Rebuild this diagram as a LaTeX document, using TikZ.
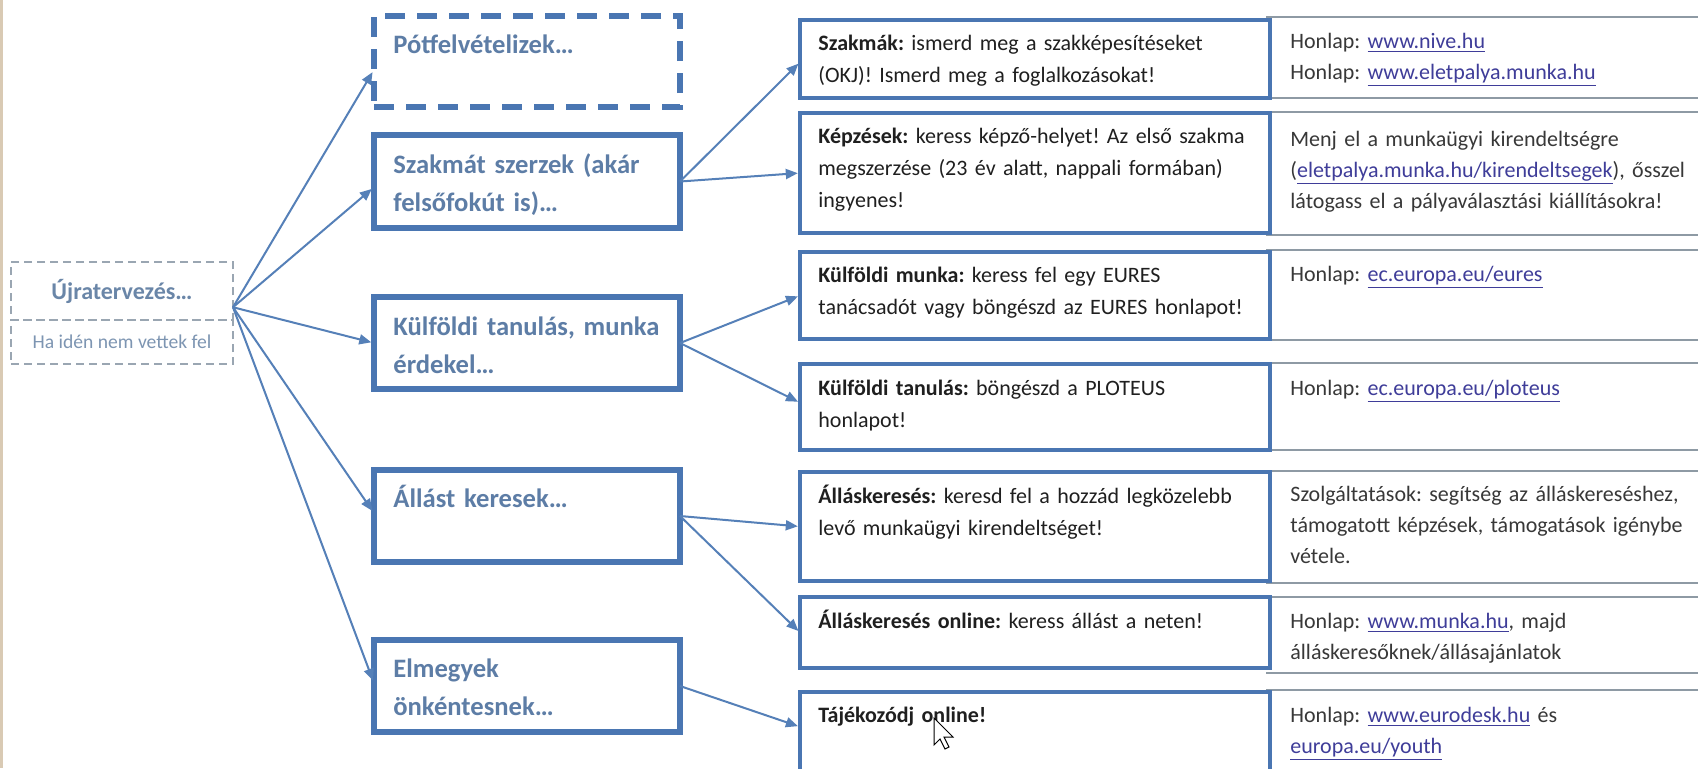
\documentclass[tikz,border=0pt]{standalone}
\usepackage{fontspec}
\setmainfont{Carlito}
\usetikzlibrary{calc,arrows.meta}
\definecolor{boxc}{HTML}{4A76B2}
\definecolor{midtxt}{HTML}{5D7DA6}
\definecolor{roottxt}{HTML}{6A86A8}
\definecolor{subtxt}{HTML}{7D95B2}
\definecolor{rootc}{HTML}{9AA6B2}
\definecolor{arrc}{HTML}{5580B8}
\definecolor{grayl}{HTML}{8E9AA4}
\definecolor{linkc}{HTML}{3F3D99}
\definecolor{celltxt}{HTML}{383838}
\definecolor{beige}{HTML}{D9CAB4}
\newcommand{\lnk}[1]{{\color{linkc}\underline{#1}}}
\frenchspacing
\begin{document}
\frenchspacing
\begin{tikzpicture}[x=0.5pt,y=-0.5pt,
  mbox/.style={draw=boxc, line width=2.6pt, minimum width=153pt, inner sep=0pt, outer sep=0pt, anchor=north west},
  dbox/.style={mbox, dash pattern=on 10pt off 6pt},
  rbox/.style={draw=boxc, line width=2pt, minimum width=235pt, inner sep=0pt, outer sep=0pt, anchor=north west},
  cell/.style={minimum width=222pt, inner sep=0pt, outer sep=0pt, anchor=north west},
  rootbox/.style={draw=rootc, line width=0.9pt, dash pattern=on 4pt off 2.5pt, minimum width=111pt, inner sep=0pt, outer sep=0pt, anchor=north west},
  gl/.style={draw=grayl, line width=1pt},
  mtxt/.style={anchor=base west, inner sep=0pt, text width=145pt, align=left, text=midtxt, font=\fontsize{13.3}{19}\selectfont\bfseries\frenchspacing},
  rtxt/.style={anchor=base west, inner sep=0pt, text width=230pt, align=left, text=black!88, font=\fontsize{11}{16}\selectfont\frenchspacing},
  ctxt/.style={anchor=base west, inner sep=0pt, text width=215pt, align=left, text=celltxt, font=\fontsize{11}{15.5}\selectfont\frenchspacing},
  arr/.style={draw=arrc, line width=1pt, -{Triangle[length=6pt,width=5pt]}, shorten >=1.1pt}
]
\useasboundingbox (0,0) rectangle (1698,768);
\clip (0,0) rectangle (1698,768);
\fill[white] (0,0) rectangle (1698,768);
\fill[beige] (0,0) rectangle (3,768);

% root
\node[rootbox, minimum height=29pt, text=roottxt, font=\fontsize{12}{14}\selectfont\bfseries] (r1) at (11,262) {Újratervezés…};
\node[rootbox, minimum height=22pt, text=subtxt, font=\fontsize{9.8}{12}\selectfont] (r2) at (11,320) {Ha idén nem vettek fel};

% middle boxes
\node[dbox, minimum height=45.5pt] (m0) at (374,16) {};
\node[mbox, minimum height=46.5pt] (m1) at (374,135) {};
\node[mbox, minimum height=46pt] (m2) at (374,297) {};
\node[mbox, minimum height=46pt] (m3) at (374,470) {};
\node[mbox, minimum height=46pt] (m4) at (374,640) {};
\node[mtxt] (t0) at (393,53) {Pótfelvételizek…};
\node[mtxt] (t1) at (393,173) {Szakmát szerzek (akár\\felsőfokút is)…};
\node[mtxt] (t2) at (393,335) {Külföldi tanulás, munka\\érdekel…};
\node[mtxt] (t3) at (393,507) {Állást keresek…};
\node[mtxt] (t4) at (393,677) {Elmegyek\\önkéntesnek…};

% third column cells
\node[cell, minimum height=40.5pt] (c1) at (1266,17) {};
\node[cell, minimum height=61.5pt] (c2) at (1266,112) {};
\node[cell, minimum height=45pt] (c3) at (1266,250) {};
\node[cell, minimum height=43.5pt] (c4) at (1266,363) {};
\node[cell, minimum height=56pt] (c5) at (1266,471) {};
\node[cell, minimum height=38pt] (c6) at (1266,597) {};
\node[cell, minimum height=45pt] (c7) at (1266,690) {};
\foreach \c in {c1,c2,c3,c4,c5,c6,c7}{
  \draw[gl] (\c.north west) -- (\c.north east) (\c.south west) -- (\c.south east);
}
\node[ctxt] (d1) at (1290,48) {Honlap: \lnk{www.nive.hu}\\Honlap: \lnk{www.eletpalya.munka.hu}};
\node[ctxt] (d2) at (1290,146) {Menj el a munkaügyi kirendeltségre\\(\lnk{eletpalya.munka.hu/kirendeltsegek}), ősszel\\látogass el a pályaválasztási kiállításokra!};
\node[ctxt] (d3) at (1290,281) {Honlap: \lnk{ec.europa.eu/eures}};
\node[ctxt] (d4) at (1290,395) {Honlap: \lnk{ec.europa.eu/ploteus}};
\node[ctxt] (d5) at (1290,501) {Szolgáltatások: segítség az álláskereséshez,\\támogatott képzések, támogatások igénybe\\vétele.};
\node[ctxt] (d6) at (1290,628) {Honlap: \lnk{www.munka.hu}, majd\\álláskeresőknek/állásajánlatok};
\node[ctxt] (d7) at (1290,722) {Honlap: \lnk{www.eurodesk.hu} és\\\lnk{europa.eu/youth}};

% right boxes
\node[rbox, minimum height=39pt] (b1) at (800,20) {};
\node[rbox, minimum height=60pt] (b2) at (800,113) {};
\node[rbox, minimum height=43.5pt] (b3) at (800,252) {};
\node[rbox, minimum height=43pt] (b4) at (800,364) {};
\node[rbox, minimum height=54.5pt] (b5) at (800,472) {};
\node[rbox, minimum height=35.5pt] (b6) at (800,597) {};
\node[rbox, minimum height=41.5pt] (b7) at (800,692) {};
\node[rtxt] (s1) at (818,50) {\textbf{Szakmák:} ismerd meg a szakképesítéseket\\(OKJ)! Ismerd meg a foglalkozásokat!};
\node[rtxt] (s2) at (818,143) {\textbf{Képzések:} keress képző-helyet! Az első szakma\\megszerzése (23 év alatt, nappali formában)\\ingyenes!};
\node[rtxt] (s3) at (818,282) {\textbf{Külföldi munka:} keress fel egy EURES\\tanácsadót vagy böngészd az EURES honlapot!};
\node[rtxt] (s4) at (818,395) {\textbf{Külföldi tanulás:} böngészd a PLOTEUS\\honlapot!};
\node[rtxt] (s5) at (818,503) {\textbf{Álláskeresés:} keresd fel a hozzád legközelebb\\levő munkaügyi kirendeltséget!};
\node[rtxt] (s6) at (818,628) {\textbf{Álláskeresés online:} keress állást a neten!};
\node[rtxt] (s7) at (818,722) {\textbf{Tájékozódj online!}};

% arrows from root
\coordinate (rs) at ($(r1.north east)!0.78!(r1.south east)$);
\draw[arr, shorten >=1.4pt] (rs) -- ($(m0.north west)!0.59!(m0.south west)$);
\draw[arr, shorten >=1.4pt] (rs) -- ($(m1.north west)!0.56!(m1.south west)$);
\draw[arr, shorten >=1.4pt] (rs) -- (m2.west);
\draw[arr, shorten >=1.4pt] (rs) -- ($(m3.north west)!0.47!(m3.south west)$);
\draw[arr, shorten >=1.4pt] (rs) -- ($(m4.north west)!0.47!(m4.south west)$);

% arrows from middle to right
\draw[arr] (m1.east) -- ($(b1.north west)!0.54!(b1.south west)$);
\draw[arr] (m1.east) -- (b2.west);
\draw[arr] (m2.east) -- ($(b3.north west)!0.5!(b3.south west)$);
\draw[arr] (m2.east) -- ($(b4.north west)!0.45!(b4.south west)$);
\draw[arr] (m3.east) -- (b5.west);
\draw[arr] (m3.east) -- (b6.west);
\draw[arr] (m4.east) -- ($(b7.north west)!0.42!(b7.south west)$);

% mouse cursor
\draw[fill=white, draw=black, line width=0.5pt, line join=miter]
  (934,718) -- ++(0,27) -- ++(6,-6) -- ++(5,10) -- ++(4,-2) -- ++(-5,-10) -- ++(9,0) -- cycle;
\end{tikzpicture}
\end{document}
